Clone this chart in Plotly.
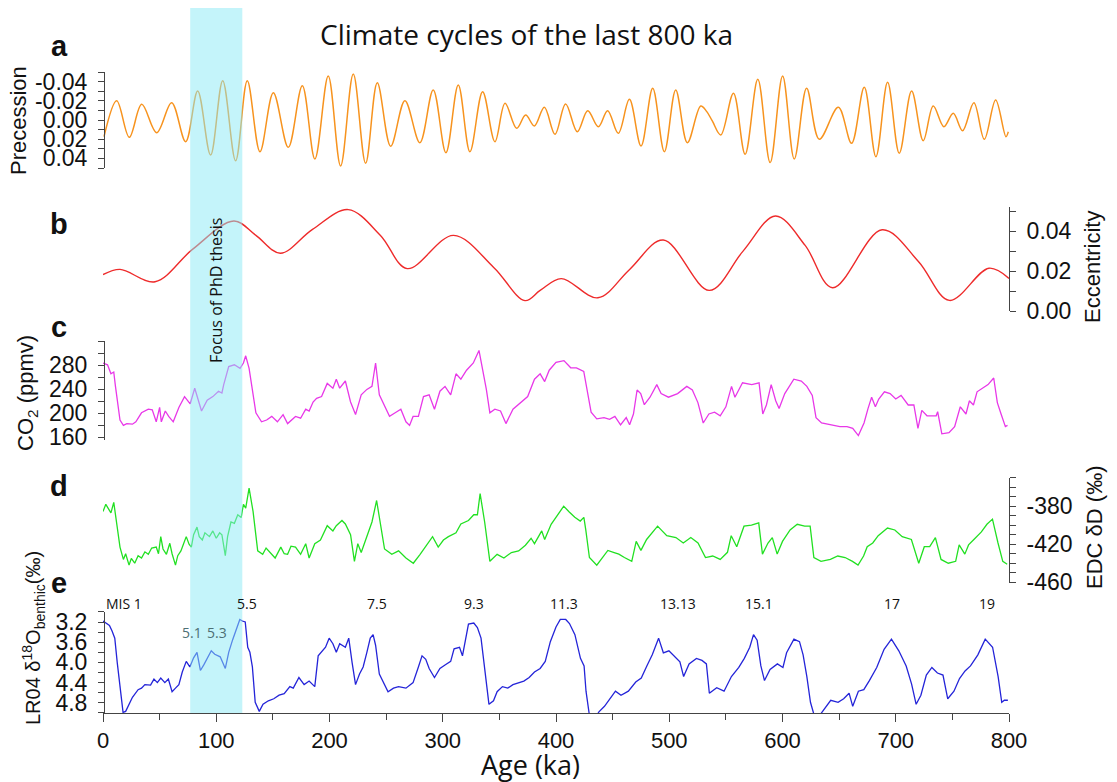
import plotly.graph_objects as go

W, H = 1117, 782


def px(x):
    return x / W


def py(y):
    return 1 - y / H


# ---------------- data ----------------
# (a) climatic precession index: successive turning points
prec_age = [0.9, 12.1, 23.2, 34.2, 47.4, 60.6, 73, 83.6, 95, 105.7, 117.1, 127.4, 138.6, 150.4,
            163.6, 176, 187.1, 198.9, 209.8, 221, 231.9, 242.2, 254, 266.6, 279.8, 291.6, 302.8,
            313.7, 324, 335.2, 346.1, 355, 365.3, 373.2, 380.9, 389.7, 399.1, 408.5, 418.8, 428,
            437.4, 445.6, 455, 464.8, 475.1, 485.4, 495.7, 505.7, 516, 527.8, 533, 538, 545.5,
            556.7, 567, 578.2, 589.1, 600.1, 610.4, 621.3, 632.5, 649.3, 661, 672.2, 682.5, 692.8,
            703.1, 714, 724.3, 733.1, 742.5, 750.8, 759, 769, 778.2, 788.2, 797.3, 799.4]
prec_val = [0.0174, -0.0201, 0.018, -0.0163, 0.0132, -0.018, 0.0226, -0.0302, 0.0365, -0.041,
            0.0424, -0.041, 0.033, -0.0284, 0.0285, -0.0357, 0.0406, -0.0458, 0.0479, -0.0479,
            0.0451, -0.0389, 0.0274, -0.0201, 0.0236, -0.0313, 0.034, -0.0365, 0.033, -0.0295,
            0.0226, -0.0174, 0.0087, -0.0052, 0.0062, -0.0132, 0.0149, -0.0167, 0.0122, -0.0097,
            0.007, -0.0097, 0.0139, -0.0215, 0.027, -0.033, 0.033, -0.0313, 0.0236, -0.0146,
            -0.009, 0.001, 0.0156, -0.0278, 0.0357, -0.0424, 0.0444, -0.0458, 0.0406, -0.033,
            0.0201, -0.0132, 0.0243, -0.034, 0.0382, -0.0392, 0.0347, -0.0302, 0.0215, -0.0146,
            0.007, -0.007, 0.0111, -0.018, 0.0201, -0.0208, 0.0174, 0.0122]

# (b) orbital eccentricity
ecc_age = [0, 15, 46, 79, 115.6, 135, 156.6, 185, 216.5, 245, 268.6, 309.5, 345, 372.6, 386,
           404.6, 437, 465, 494.7, 535.4, 565, 593.8, 620, 644.2, 688, 720, 747.4, 782.3, 800]
ecc_val = [0.0184, 0.021, 0.0148, 0.031, 0.0452, 0.038, 0.0291, 0.041, 0.0509, 0.038, 0.0214,
           0.038, 0.022, 0.0054, 0.0105, 0.0164, 0.0068, 0.021, 0.0357, 0.0105, 0.030, 0.0477,
           0.033, 0.0118, 0.0408, 0.025, 0.0055, 0.0216, 0.0165]

# (c) atmospheric CO2 (ppmv)
co2_age = [0, 4, 7, 9.5, 11, 13, 15, 18, 21, 26, 29, 34, 40, 43.5, 47, 50, 51.5, 55, 58, 62, 67,
           72, 77, 81, 87, 92, 97, 102, 105, 106.6, 111, 116, 121, 124, 126, 129, 132, 135, 140,
           144.5, 149, 154, 159, 163, 170, 174.5, 179, 182, 185.5, 188.6, 193, 198, 203, 206,
           209, 214, 218.6, 223, 228, 233, 237.5, 240.7, 244, 248.6, 253, 258, 263, 267.5,
           270.7, 273.8, 278.5, 283, 288, 292.7, 297.5, 302, 307, 311.7, 316, 321, 327, 332,
           335, 338.5, 341.6, 346, 351, 355.8, 362, 368, 375, 381, 386, 390, 394, 400, 407, 413,
           418, 424.5, 427.8, 431, 436, 442.4, 447.3, 452, 457, 462, 465, 468.4, 471.6, 474.8,
           478, 483, 489, 492.8, 499.3, 507.4, 515.5, 520.4, 525.3, 530, 535, 540, 545, 550,
           555, 558, 564.7, 572.9, 579.3, 582.6, 585.8, 590, 594, 597, 602, 610, 616.6, 621.5,
           626.3, 629.6, 634.5, 642.6, 650.7, 657, 662, 667, 672, 675.5, 678.7, 682, 685, 690,
           695, 700, 704.7, 711, 716, 719.6, 723, 727.6, 735.7, 737, 740.7, 747, 752, 757, 762,
           765, 768.6, 771.8, 776.6, 781.5, 786.5, 789.7, 793, 796.8, 798.7]
co2_val = [284, 281, 266, 269, 245, 215, 189, 180, 183, 182, 186, 201, 207, 206, 186, 210, 186,
           204, 195, 186, 210, 228, 216, 242, 204, 222, 228, 237, 234, 248, 278, 281, 275, 284,
           296, 275, 236, 201, 186, 189, 195, 186, 198, 183, 195, 192, 207, 204, 219, 225, 228,
           250, 242, 257, 242, 254, 219, 198, 231, 240, 245, 284, 231, 213, 195, 201, 207, 186,
           180, 195, 195, 228, 231, 207, 237, 245, 231, 266, 257, 272, 284, 305, 275, 240, 201,
           207, 204, 183, 207, 216, 228, 257, 266, 253, 272, 285, 288, 276, 276, 270, 233, 202,
           191, 193, 190, 195, 181, 193, 181, 199, 239, 233, 214.5, 227, 248, 233, 227, 233, 245,
           239, 218, 184, 199, 202, 196, 211, 245, 227, 251, 248, 251, 199, 214, 248, 221, 208,
           233, 257, 254, 245, 230, 193, 184, 181, 178, 178, 175, 163, 184, 208, 227, 211, 224,
           236, 233, 224, 230, 214, 214, 175, 205, 196, 196, 203, 166, 168, 178, 211, 199, 221,
           214, 236, 242, 248, 259, 218, 199, 178, 180]

# (d) EDC ice-core deuterium (permil)
dd_age = [0, 2.5, 5, 7, 9.5, 12, 15, 18, 20, 23, 25, 28, 31, 34, 37, 40, 43, 47, 49, 51, 53, 56,
          59, 61, 64, 66, 68.8, 71, 73.5, 76, 78, 80, 83, 85, 87.7, 90, 94, 97, 100, 103, 105,
          108, 110, 113, 116, 119, 122, 124, 126, 129, 132.5, 136.6, 141, 144, 147.6, 152, 157,
          160, 163, 166, 170, 174.5, 179, 182, 187, 192, 198, 203, 206, 211, 214, 218.6, 222,
          225, 228, 233, 237.5, 241.6, 244, 248.6, 255, 261, 267.5, 274, 280, 286, 291, 296,
          300.6, 305, 311.7, 316, 322.7, 327.4, 330.6, 333, 337, 341.6, 348, 354, 360.6, 367,
          373, 378, 381, 387.4, 390, 395.7, 402, 406.8, 411.7, 416.6, 421.4, 424.6, 426.3,
          429.5, 436, 441, 445.8, 450.7, 455.5, 460.4, 466.9, 470.8, 475, 480, 486.4, 489.7,
          497.8, 505.9, 512.4, 519, 525.4, 532, 538.4, 545, 551.4, 554.7, 559.6, 566, 572.6,
          579, 582.3, 587.2, 591, 595.3, 600, 606.7, 613, 619.6, 624.4, 627.7, 634, 642.3,
          648.8, 655.3, 661.8, 666.7, 671.6, 674.8, 679.7, 684.5, 692.7, 699.2, 705.7, 713.8,
          720.3, 725.2, 730, 735, 740, 746.4, 752.9, 756, 761, 764.3, 769, 775.6, 780.5, 785.4,
          790.3, 794.5, 798.4]
dd_val = [-385.5, -378, -383, -387, -376, -397, -423, -436, -430, -442, -435, -440, -432, -434.5,
          -428, -430.6, -424, -423, -430, -412, -425, -430.6, -419, -430, -442, -432, -427, -420,
          -412, -420, -423, -410, -402, -412, -415.6, -408, -412, -406, -413.7, -408, -410, -432,
          -412, -396.6, -398, -389, -392, -378, -382, -361, -385.5, -427, -430.6, -424, -428.7,
          -434.5, -423, -430, -430.6, -422, -423, -430.6, -419.4, -434.5, -419.4, -415.6, -400.5,
          -406, -400.5, -395, -398.7, -410, -438, -419.4, -428.7, -412, -396.6, -374, -393, -425,
          -430.6, -427, -434.5, -440, -430.6, -421, -412, -423, -415.6, -412, -408, -398.7, -395,
          -389, -389, -366.7, -396.6, -438, -430.6, -434.5, -428.7, -427, -421, -413.7, -419.4,
          -406, -415, -399, -388, -380, -386, -391.7, -395.6, -391.7, -405, -434, -442, -434,
          -426.5, -428.5, -430.4, -434, -438, -417, -426.5, -415, -405, -401, -411, -413, -418.7,
          -413, -418.7, -434, -432.4, -436, -428.5, -411, -422.6, -401, -400, -397.5, -430.4,
          -418.7, -413, -430.4, -417, -405, -399, -401, -401, -434, -438, -436, -432.4, -434,
          -438, -442, -432.4, -422.6, -418.7, -411, -403, -405, -412, -415, -440, -422.6, -422.6,
          -413, -436, -440, -438, -420.7, -430.4, -420.7, -415, -407, -399, -393.6, -418.7, -438,
          -441]

# (e) LR04 benthic d18O stack (permil)
d18_age = [0, 2.5, 5.7, 8, 10.4, 12.6, 15, 17.7, 20, 23, 26, 31, 34, 37, 42, 45, 48, 51, 54.6,
           57.7, 61, 64, 67, 70, 73.5, 76.7, 80, 83, 86, 89, 92.4, 95.6, 98.7, 103.5, 108, 111,
           114.5, 117.7, 120.8, 123, 125.6, 127.8, 129.7, 131.9, 134.4, 138, 141.3, 146, 150.8,
           155.5, 160, 165, 168, 173, 177.6, 182, 187, 190, 193, 196.5, 199.7, 203, 206, 209,
           214, 217, 220, 223, 226.5, 229.7, 233, 236, 238.5, 240.7, 244, 247, 251.7, 256.5,
           261, 267.5, 273.8, 278.5, 281.7, 285, 288, 292.7, 297.5, 302, 307, 310, 314.8, 317.4,
           319.6, 322.7, 327.4, 330.6, 333.8, 337, 340.8, 344.8, 348, 352.7, 357.4, 362, 367,
           371.6, 376.3, 381, 386, 390.5, 395, 400, 403.8, 408.6, 411.9, 416.7, 421.6, 424.8,
           426.5, 429.7, 434.6, 437.9, 442.8, 447.6, 452.5, 457.4, 463.9, 470.4, 475.3, 480.2,
           485, 490.6, 494.8, 499.7, 504.5, 509.4, 512.7, 517.5, 524, 528.9, 532.8, 535.4,
           541.9, 548.4, 554.9, 561.4, 566.3, 571.1, 574.4, 577.6, 580.9, 584.1, 589, 595.5,
           600.4, 603.6, 610.1, 615, 618.2, 621.5, 624.7, 628, 632.8, 637.7, 642.6, 649.1, 654,
           658.8, 662, 667, 671.8, 676.7, 683.2, 689.7, 696.2, 702.7, 709.2, 714, 718, 722.2,
           727, 731.9, 736.8, 741.7, 745.9, 751.4, 756.3, 761.2, 766, 772.5, 779, 785.5, 790.4,
           793.6, 795.9, 799]
d18_val = [3.18, 3.22, 3.27, 3.38, 3.52, 4.01, 4.51, 4.99, 4.97, 4.83, 4.69, 4.54, 4.51, 4.44,
           4.45, 4.33, 4.40, 4.31, 4.40, 4.33, 4.58, 4.51, 4.44, 4.19, 3.98, 4.09, 3.91, 3.80,
           4.16, 4.05, 3.91, 3.77, 3.84, 3.89, 4.12, 3.80, 3.55, 3.34, 3.15, 3.18, 3.20, 3.70,
           3.80, 4.09, 4.79, 4.97, 4.83, 4.76, 4.72, 4.65, 4.62, 4.48, 4.51, 4.30, 4.44, 4.37,
           4.48, 3.87, 3.80, 3.70, 3.52, 3.63, 3.80, 3.63, 3.70, 3.52, 4.01, 4.44, 4.23, 4.09,
           3.80, 3.52, 3.45, 3.66, 4.23, 4.37, 4.58, 4.51, 4.48, 4.51, 4.40, 4.09, 3.87, 3.94,
           4.12, 4.30, 4.12, 4.05, 3.98, 3.73, 3.70, 3.87, 3.59, 3.24, 3.22, 3.31, 3.52, 4.16,
           4.83, 4.76, 4.58, 4.48, 4.51, 4.44, 4.40, 4.37, 4.30, 4.19, 4.12, 3.98, 3.59, 3.30,
           3.15, 3.15, 3.23, 3.45, 3.92, 4.07, 4.57, 5.08, 5.10, 4.98, 4.87, 4.72, 4.57, 4.65,
           4.57, 4.39, 4.31, 4.07, 3.85, 3.52, 3.81, 3.77, 3.88, 3.99, 4.28, 4.03, 3.92, 3.96,
           4.03, 4.61, 4.50, 4.57, 4.28, 4.10, 3.92, 3.70, 3.45, 3.56, 4.07, 4.36, 4.14, 4.03,
           4.10, 3.81, 3.54, 3.59, 3.85, 4.28, 4.79, 5.05, 5.05, 4.90, 4.75, 4.79, 4.72, 4.61,
           4.87, 4.57, 4.54, 4.36, 4.10, 3.74, 3.54, 3.77, 4.07, 4.43, 4.83, 4.65, 4.25, 4.10,
           4.21, 4.25, 4.72, 4.57, 4.32, 4.17, 4.07, 3.85, 3.54, 3.70, 4.28, 4.79, 4.75, 4.75]

# marine isotope stage labels
mis_text = ["MIS 1", "5.5", "7.5", "9.3", "11.3", "13.13", "15.1", "17", "19"]
mis_age = [18.5, 127.5, 242, 328, 407, 508, 579.5, 697, 781]
sub_text = ["5.1", "5.3"]
sub_age = [79, 100.5]

# interval of interest
focus_start, focus_end = 77, 123

# ---------------- figure ----------------
TICK_FONT = dict(family="Liberation Sans, Arial, sans-serif", size=23, color="#111")
X_TICK_FONT = dict(family="Liberation Sans, Arial, sans-serif", size=22, color="#111")
TEXT_FONT = "Open Sans, Noto Sans, sans-serif"
AX_COLOR = "#444"

fig = go.Figure()


def add_line(x, y, yaxis, color, shape="linear", width=1.3):
    fig.add_trace(go.Scatter(x=x, y=y, xaxis="x", yaxis=yaxis, mode="lines",
                             line=dict(color=color, width=width, shape=shape),
                             hoverinfo="skip", showlegend=False, cliponaxis=True))


add_line(prec_age, prec_val, "y", "#F7931E", shape="spline", width=1.5)
add_line(ecc_age, ecc_val, "y2", "#EE2B2B", shape="spline", width=1.4)
add_line(co2_age, co2_val, "y3", "#E838E8")
add_line(dd_age, dd_val, "y4", "#22E022")
add_line(d18_age, d18_val, "y5", "#2424D8")


def yax(domain, rng, pos, side, tickvals, ticktext, minor_vals, font=TICK_FONT):
    return dict(domain=domain, range=rng, anchor="free", position=pos, side=side,
                tickmode="array", tickvals=tickvals, ticktext=ticktext,
                ticks="outside", ticklen=6, tickwidth=1, tickcolor=AX_COLOR,
                ticklabelstandoff=6,
                minor=dict(tickmode="array", tickvals=minor_vals, ticks="outside",
                           ticklen=6, tickwidth=1, tickcolor=AX_COLOR),
                showline=True, linecolor=AX_COLOR, linewidth=1, automargin=False,
                showgrid=False, zeroline=False, tickfont=font, fixedrange=True)


LEFT = px(104)
RIGHT = px(1009)

fig.update_layout(
    width=W, height=H, template="none",
    margin=dict(l=0, r=0, t=0, b=0, pad=0),
    paper_bgcolor="white", plot_bgcolor="rgba(0,0,0,0)",
    xaxis=dict(domain=[px(103), px(1009)], range=[0, 800], anchor="y5",
               tickmode="array", tickvals=list(range(0, 801, 100)),
               ticks="outside", ticklen=8, tickwidth=1, tickcolor=AX_COLOR,
               minor=dict(tickmode="array", tickvals=list(range(50, 800, 100)),
                          ticks="outside", ticklen=6, tickwidth=1, tickcolor=AX_COLOR),
               showline=True, linecolor=AX_COLOR, linewidth=1, showgrid=False,
               automargin=False, zeroline=False, tickfont=X_TICK_FONT, fixedrange=True),
    yaxis=yax([py(168), py(72)], [0.05, -0.05], LEFT, "left",
              [-0.04, -0.02, 0.0, 0.02, 0.04], ["-0.04", "-0.02", "0.00", "0.02", "0.04"],
              [-0.05, -0.03, -0.01, 0.01, 0.03, 0.05]),
    yaxis2=yax([py(311.4), py(207.4)], [0, 0.052], RIGHT, "right",
               [0, 0.02, 0.04], ["0.00", "0.02", "0.04"], [0.01, 0.03, 0.05]),
    yaxis3=yax([py(440.4), py(341.4)], [155, 320], LEFT, "left",
               [160, 200, 240, 280], ["160", "200", "240", "280"], [180, 220, 260, 300, 320]),
    yaxis4=yax([py(583.2), py(477.7)], [-461, -350], RIGHT, "right",
               [-460, -420, -380], ["-460", "-420", "-380"],
               [-450, -440, -430, -410, -400, -390, -370, -360, -350]),
    yaxis5=yax([py(712.9), py(611.9)], [5.0, 3.0], LEFT, "left",
               [3.2, 3.6, 4.0, 4.4, 4.8], ["3.2", "3.6", "4.0", "4.4", "4.8"],
               [3.0, 3.4, 3.8, 4.2, 4.6, 5.0]),
)

# highlighted interval, semi-transparent over the curves
fig.add_shape(type="rect", xref="x", yref="paper", x0=focus_start, x1=focus_end,
              y0=py(713), y1=py(8), fillcolor="rgba(138,234,245,0.5)",
              line=dict(width=0), layer="above")

ann = []


def label(text, x, y, size, xref="paper", angle=0, color="#111", family=TEXT_FONT, bold=False):
    if bold:
        text = "<b>" + text + "</b>"
    ann.append(dict(text=text, x=x, y=y, xref=xref, yref="paper", showarrow=False,
                    textangle=angle, xanchor="center", yanchor="middle",
                    font=dict(family=family, size=size, color=color)))


label("Climate cycles of the last 800 ka", px(526), py(34), 28)
label("Focus of PhD thesis", px(216), py(291), 16, angle=-90)

ARIAL = "Liberation Sans, Arial, sans-serif"
for letter, y in zip("abcde", [46, 224, 327, 486, 583]):
    label(letter, px(59), py(y), 29, family=ARIAL, bold=True)

label("Precession", px(19), py(121), 22, angle=-90, family=ARIAL)
label("CO<sub>2</sub> (ppmv)", px(27), py(393), 22, angle=-90, family=ARIAL)
label("LR04 δ<sup>18</sup>O<sub>benthic</sub>(‰)", px(33), py(638), 20, angle=-90, family=ARIAL)
label("Eccentricity", px(1093), py(267), 22, angle=-90, family=ARIAL)
label("EDC δD (‰)", px(1094), py(528), 22, angle=-90, family=ARIAL)
label("Age (ka)", px(530), py(764), 27)

for t, a in zip(mis_text, mis_age):
    label(t, a, py(603), 14, xref="x")
for t, a in zip(sub_text, sub_age):
    label(t, a, py(632), 14, xref="x", color="#4d6f74")

fig.update_layout(annotations=ann)

fig.write_html("out.html")
